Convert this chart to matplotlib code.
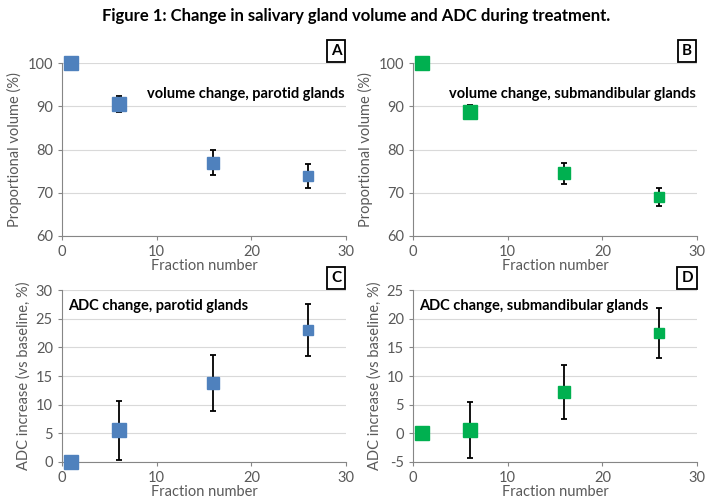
import matplotlib
matplotlib.use("Agg")
import matplotlib.pyplot as plt

plt.rcParams['font.family'] = ['Lato', 'DejaVu Sans']
plt.rcParams['axes.unicode_minus'] = False

# data
fraction = [1, 6, 16, 26]

vol_parotid = [100, 90.6, 77.0, 73.8]
vol_parotid_err = [0, 1.9, 3.0, 2.8]
vol_submand = [100, 88.8, 74.5, 69.0]
vol_submand_err = [0, 1.6, 2.5, 2.1]

adc_parotid = [0, 5.5, 13.8, 23.0]
adc_parotid_err = [0, 5.1, 4.9, 4.5]
adc_submand = [0, 0.5, 7.2, 17.5]
adc_submand_err = [0, 4.9, 4.7, 4.3]

marker_sizes = [9.5, 9.5, 9, 7.5]

blue = '#4F81BD'
green = '#00B050'
gray = '#595959'

fig = plt.figure(figsize=(7.12, 5.01), dpi=100)
fig.text(0.5, 0.968, 'Figure 1: Change in salivary gland volume and ADC during treatment.',
         ha='center', va='center', fontsize=12, fontweight='bold')

panels = [
    ([0.087, 0.529, 0.399, 0.345], vol_parotid, vol_parotid_err, blue, (60, 100), 10,
     'Proportional volume (%)', 'volume change, parotid glands', 'A', 'right'),
    ([0.580, 0.529, 0.399, 0.345], vol_submand, vol_submand_err, green, (60, 100), 10,
     'Proportional volume (%)', 'volume change, submandibular glands', 'B', 'right'),
    ([0.087, 0.078, 0.399, 0.343], adc_parotid, adc_parotid_err, blue, (0, 30), 5,
     'ADC increase (vs baseline, %)', 'ADC change, parotid glands', 'C', 'left'),
    ([0.580, 0.078, 0.399, 0.343], adc_submand, adc_submand_err, green, (-5, 25), 5,
     'ADC increase (vs baseline, %)', 'ADC change, submandibular glands', 'D', 'left'),
]

for rect, vals, errs, col, ylim, step, ylab, note, letter, side in panels:
    ax = fig.add_axes(rect)
    for x, y, e, ms in zip(fraction, vals, errs, marker_sizes):
        if e > 0:
            ax.errorbar(x, y, yerr=e, fmt='none', ecolor='black', elinewidth=1.3,
                        capsize=2.5, capthick=1.3, zorder=3)
        ax.plot(x, y, marker='s', ms=ms, color=col, mec=col, ls='none',
                zorder=4, clip_on=False)
    ax.set_xlim(0, 30)
    ax.set_ylim(*ylim)
    ax.set_xticks([0, 10, 20, 30])
    ax.set_yticks(range(ylim[0], ylim[1] + 1, step))
    ax.grid(axis='y', color='#D9D9D9', lw=0.8)
    ax.set_axisbelow(True)
    for s in ['top', 'right']:
        ax.spines[s].set_visible(False)
    for s in ['left', 'bottom']:
        ax.spines[s].set_color('#868686')
    ax.tick_params(colors='#868686', labelcolor=gray, labelsize=10.5, length=3)
    ax.set_xlabel('Fraction number', fontsize=10.5, color=gray, labelpad=0)
    ax.set_ylabel(ylab, fontsize=10.5, color=gray, labelpad=4)
    if side == 'right':
        ax.text(0.995, 0.82, note, transform=ax.transAxes, ha='right', va='center',
                fontsize=10.5, fontweight='bold')
    else:
        ax.text(0.02, 0.91, note, transform=ax.transAxes, ha='left', va='center',
                fontsize=10.5, fontweight='bold')
    ax.text(0.965, 1.03, letter, transform=ax.transAxes, ha='center', va='bottom',
            fontsize=11, fontweight='bold',
            bbox=dict(boxstyle='square,pad=0.25', fc='white', ec='black', lw=1.3))

fig.savefig('out.png', dpi=100)
